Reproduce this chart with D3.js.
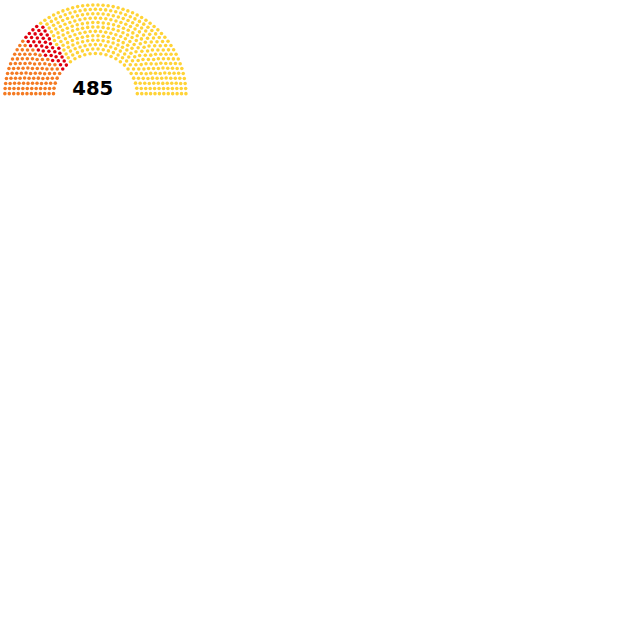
<!DOCTYPE html>
<html>
<head>
<meta charset="utf-8">
<script src="https://cdn.jsdelivr.net/npm/d3@7"></script>
<style>
  body { margin: 0; background: #fff; }
</style>
</head>
<body>
<div id="chart"></div>
<script>
// seats per party, left to right
var partySeats = [102, 40, 343];
var partyColors = ["#F47A22", "#E0000E", "#FFD336"];

// seats that fit in n rows (parliament diagram tool table)
var rowTotals = [3, 15, 33, 61, 95, 138, 189, 247, 313, 388, 469, 559, 657, 762, 876, 997, 1126, 1263, 1408, 1560];

function main(){
    var seatList = buildSeats();
    buildChart(seatList);
}

// positions of all seats in diagram units
function buildSeats(){
    var total = d3.sum(partySeats);
    var rows = 0;
    for (var i = 0; i < rowTotals.length; i++){
        if (rowTotals[i] >= total){
            rows = i + 1;
            break;
        }
    }
    var radius = 0.4 / rows;
    var poslist = [];

    function addRow(J, R){
        if (J == 1){
            poslist.push([Math.PI / 2, 1.75, R]);
            return;
        }
        for (var j = 0; j < J; j++){
            var angle = j * (Math.PI - 2 * Math.sin(radius / R)) / (J - 1) + Math.sin(radius / R);
            poslist.push([angle, R * Math.cos(angle) + 1.75, R * Math.sin(angle)]);
        }
    }

    for (var i = 1; i < rows; i++){
        var J = Math.floor(total / rowTotals[rows - 1] * Math.PI / (2 * Math.asin(2 / (3 * rows + 4 * i - 2))));
        addRow(J, (3 * rows + 4 * i - 2) / (4 * rows));
    }
    // whatever is left goes in the outer row
    addRow(total - poslist.length, (7 * rows - 2) / (4 * rows));

    poslist.sort(function(a, b){ return (b[0] - a[0]) || (b[1] - a[1]); });

    var seatList = [];
    var k = 0;
    for (var p = 0; p < partySeats.length; p++){
        for (var s = 0; s < partySeats[p]; s++){
            seatList.push({party: p, x: poslist[k][1], y: poslist[k][2], r: radius});
            k++;
        }
    }
    return seatList;
}

function buildChart(seatList){
    var scale = 0.53;
    var width = 360 * scale,
        height = 185 * scale;

    var svg = d3.select("#chart")
        .append("svg")
            .attr("width", 640)
            .attr("height", 640);

    var xScale = d3.scaleLinear().domain([-0.05, 3.55]).range([0, width]);
    var yScale = d3.scaleLinear().domain([1.8, -0.05]).range([0, height]);

    svg.selectAll(".seat")
        .data(seatList)
        .enter().append("circle")
        .attr("class", "seat")
        .attr("cx", function(d){ return xScale(d.x); })
        .attr("cy", function(d){ return yScale(d.y); })
        .attr("r", function(d){ return xScale(d.r) - xScale(0); })
        .attr("fill", function(d){ return partyColors[d.party]; });

    svg.append("text")
        .attr("x", xScale(1.70))
        .attr("y", 95)
        .attr("text-anchor", "middle")
        .style("font-family", "DejaVu Sans, sans-serif")
        .style("font-weight", "bold")
        .style("font-size", (36 * scale + 0.6) + "px")
        .text(d3.sum(partySeats));
}

main();
</script>
</body>
</html>
